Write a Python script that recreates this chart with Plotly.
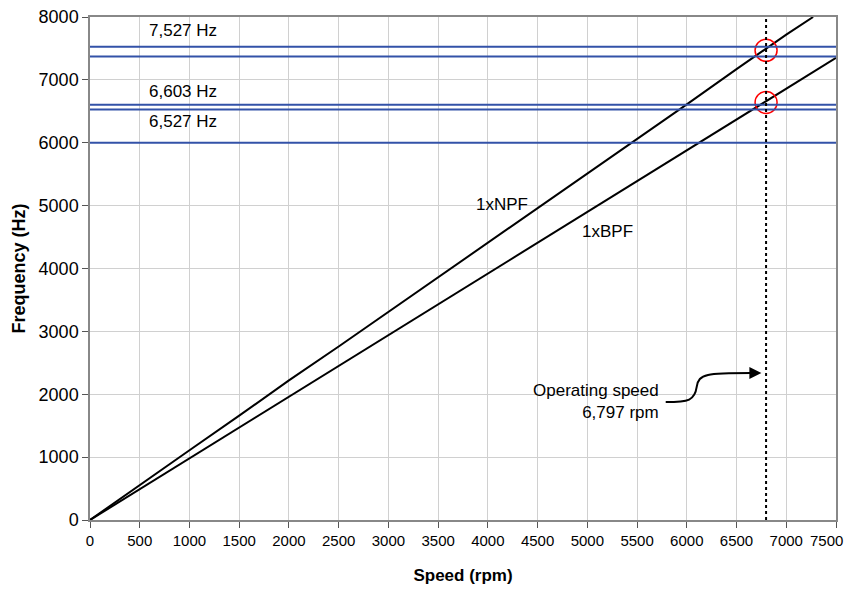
import plotly.graph_objects as go

# Data
speed = [0, 500, 1000, 1500, 2000, 2500, 3000, 3500, 4000, 4500, 5000, 5500, 6000, 6500, 7000, 7270]
npf = [0, 560, 1110, 1660, 2220, 2760, 3310, 3860, 4410, 4950, 5500, 6060, 6610, 7170, 7720, 8000]
speed_bpf = [0, 500, 1000, 1500, 2000, 2500, 3000, 3500, 4000, 4500, 5000, 5500, 6000, 6500, 7000, 7500]
bpf = [0, 490, 980, 1470, 1960, 2450, 2940, 3430, 3920, 4410, 4900, 5390, 5880, 6370, 6860, 7350]
x_ticks = list(range(0, 7501, 500))
x_ticktext = [str(v) for v in x_ticks[:-1]] + [""]
last_tick = "7500"
hlines = [7527, 7370, 6603, 6527, 6000]
hlabels = [("7,527 Hz", 7780), ("6,603 Hz", 6820), ("6,527 Hz", 6340)]
op_speed = 6797
circle_hz = [7470, 6640]

fig = go.Figure()
fig.add_trace(go.Scatter(x=speed, y=npf, mode="lines", line=dict(color="black", width=2), showlegend=False))
fig.add_trace(go.Scatter(x=speed_bpf, y=bpf, mode="lines", line=dict(color="black", width=2), showlegend=False))

for h in hlines:
    fig.add_shape(type="line", x0=0, x1=7500, y0=h, y1=h, xref="x", yref="y",
                  line=dict(color="#3352A8", width=2))

fig.add_shape(type="line", x0=op_speed, x1=op_speed, y0=0, y1=8000, xref="x", yref="y",
              line=dict(color="black", width=2, dash="dot"))

fig.add_trace(go.Scatter(x=[op_speed] * len(circle_hz), y=circle_hz, mode="markers",
                         marker=dict(symbol="circle-open", size=22, color="red", line=dict(width=1.5, color="red")),
                         showlegend=False))

font_main = "Liberation Sans, Arial, sans-serif"
for txt, yy in hlabels:
    fig.add_annotation(x=573, y=yy, text=txt, showarrow=False, xanchor="left", yanchor="middle",
                       font=dict(family=font_main, size=17, color="black"))

fig.add_annotation(x=4142, y=5020, text="1xNPF", showarrow=False, font=dict(family=font_main, size=17, color="black"))
fig.add_annotation(x=5198, y=4595, text="1xBPF", showarrow=False, font=dict(family=font_main, size=17, color="black"))

fig.add_annotation(x=5740, y=1880, text="Operating speed<br>6,797 rpm", showarrow=False, xanchor="right",
                   yanchor="middle", align="right", font=dict(family=font_main, size=17, color="black"))

fig.add_shape(type="path", xref="x", yref="y",
              path="M 5788,1876 C 6020,1876 6080,1900 6100,2120 C 6120,2330 6200,2337 6650,2337",
              line=dict(color="black", width=2))
fig.add_annotation(x=6750, y=2337, ax=6600, ay=2337, axref="x", ayref="y", xref="x", yref="y",
                   text="", showarrow=True, arrowhead=2, arrowsize=1.2, arrowwidth=2, arrowcolor="black")

# last x tick label, kept inside the visible page
fig.add_annotation(x=7500, y=0, xref="x", yref="paper", text=last_tick, showarrow=False,
                   xanchor="right", yanchor="top", xshift=9, yshift=-10,
                   font=dict(family=font_main, size=15, color="black"))

fig.update_xaxes(range=[0, 7500], tickvals=x_ticks, ticktext=x_ticktext, showgrid=True, gridcolor="#D0D0D0",
                 showline=True, linecolor="#888888", linewidth=1.5, mirror=True, ticks="outside",
                 ticklen=6, tickcolor="#555555", zeroline=False, automargin=False,
                 ticklabeloverflow="allow",
                 tickfont=dict(family=font_main, size=15, color="black"),
                 title=dict(text="<b>Speed (rpm)</b>", standoff=22,
                            font=dict(family=font_main, size=17, color="black")))
fig.update_yaxes(range=[0, 8000], tickvals=list(range(0, 8001, 1000)), showgrid=True, gridcolor="#D0D0D0",
                 showline=True, linecolor="#888888", linewidth=1.5, mirror=True, ticks="outside",
                 ticklen=6, tickcolor="#555555", zeroline=False, automargin=False,
                 ticklabeloverflow="allow",
                 tickfont=dict(family=font_main, size=18, color="black"),
                 title=dict(text="<b>Frequency (Hz)</b>", standoff=8, font=dict(family=font_main, size=18, color="black")))

fig.update_layout(width=845, height=577, margin=dict(l=82, r=17, t=9, b=65),
                  plot_bgcolor="white", paper_bgcolor="white", showlegend=False)

fig.write_html("out.html")
